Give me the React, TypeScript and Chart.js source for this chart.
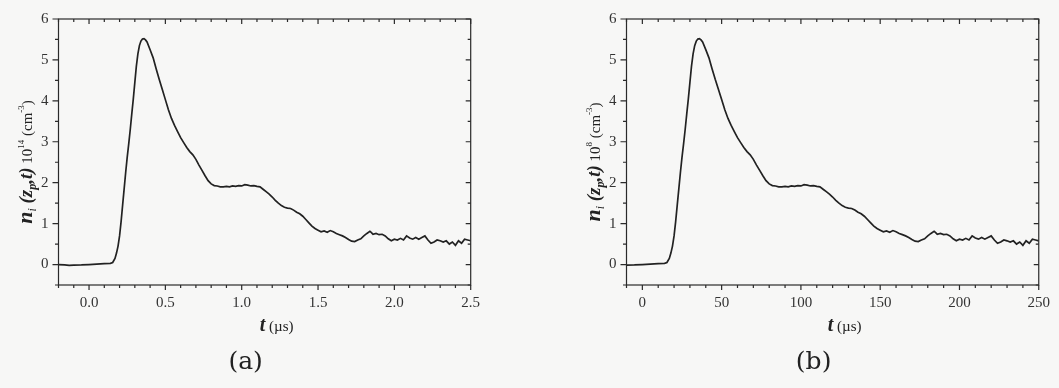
import React, { useEffect, useRef } from "react";
import { Chart, registerables } from "chart.js";

Chart.register(...registerables);

// ---- data ----
const timeA = [
  -0.2, -0.16, -0.13, -0.1, -0.05, 0.0, 0.05, 0.1, 0.14, 0.155, 0.17, 0.18, 0.19, 0.2, 0.21, 0.22, 0.23, 0.24,
  0.25, 0.26, 0.27, 0.28, 0.29, 0.3, 0.31, 0.32, 0.33, 0.34, 0.35, 0.36, 0.37, 0.38, 0.4, 0.42, 0.44, 0.46,
  0.48, 0.5, 0.52, 0.54, 0.56, 0.58, 0.6, 0.62, 0.64, 0.66, 0.68, 0.7, 0.72, 0.74, 0.76, 0.78, 0.8, 0.82,
  0.84, 0.86, 0.88, 0.9, 0.92, 0.94, 0.96, 0.98, 1.0, 1.02, 1.04, 1.06, 1.08, 1.1, 1.12, 1.14, 1.16, 1.18,
  1.2, 1.22, 1.24, 1.26, 1.28, 1.3, 1.32, 1.34, 1.36, 1.38, 1.4, 1.42, 1.44, 1.46, 1.48, 1.5, 1.52, 1.54,
  1.56, 1.58, 1.6, 1.62, 1.64, 1.66, 1.68, 1.7, 1.72, 1.74, 1.76, 1.78, 1.8, 1.82, 1.84, 1.85, 1.86, 1.88,
  1.9, 1.92, 1.94, 1.96, 1.98, 2.0, 2.02, 2.04, 2.06, 2.08, 2.1, 2.12, 2.14, 2.16, 2.18, 2.2, 2.22, 2.24,
  2.26, 2.28, 2.3, 2.32, 2.34, 2.36, 2.38, 2.4, 2.42, 2.44, 2.46, 2.48, 2.5,
];

const densityA = [
  0.0, -0.01, -0.02, -0.015, -0.01, 0.0, 0.01, 0.02, 0.03, 0.05, 0.15, 0.28, 0.45, 0.7, 1.05, 1.45, 1.85, 2.25,
  2.62, 2.95, 3.3, 3.68, 4.05, 4.45, 4.85, 5.15, 5.35, 5.46, 5.51, 5.52, 5.49, 5.44, 5.25, 5.05, 4.78, 4.52,
  4.28, 4.03, 3.78, 3.57, 3.4, 3.25, 3.1, 2.98, 2.86, 2.76, 2.68, 2.57, 2.43, 2.3, 2.17, 2.05, 1.97, 1.93,
  1.92, 1.9, 1.9, 1.91, 1.9, 1.92, 1.91, 1.93, 1.92, 1.95, 1.94, 1.92, 1.93, 1.91, 1.9, 1.84, 1.78, 1.72,
  1.65, 1.57, 1.5, 1.44, 1.4, 1.38, 1.37, 1.33, 1.28, 1.24, 1.18, 1.1, 1.02, 0.94, 0.88, 0.84, 0.8, 0.82,
  0.79, 0.83, 0.8, 0.76, 0.73, 0.7, 0.66, 0.61, 0.57, 0.56, 0.6, 0.63, 0.7, 0.76, 0.81, 0.78, 0.74, 0.76,
  0.73, 0.74, 0.7, 0.63, 0.58, 0.62, 0.6, 0.64, 0.6, 0.7, 0.65, 0.62, 0.66, 0.62, 0.66, 0.7, 0.6, 0.52,
  0.55, 0.6, 0.58, 0.55, 0.58, 0.5, 0.55, 0.47, 0.58, 0.52, 0.62, 0.6, 0.58,
];

const timeB = [
  -20, -16, -13, -10, -5, 0, 5, 10, 14, 15.5, 17, 18, 19, 20, 21, 22, 23, 24,
  25, 26, 27, 28, 29, 30, 31, 32, 33, 34, 35, 36, 37, 38, 40, 42, 44, 46,
  48, 50, 52, 54, 56, 58, 60, 62, 64, 66, 68, 70, 72, 74, 76, 78, 80, 82,
  84, 86, 88, 90, 92, 94, 96, 98, 100, 102, 104, 106, 108, 110, 112, 114, 116, 118,
  120, 122, 124, 126, 128, 130, 132, 134, 136, 138, 140, 142, 144, 146, 148, 150, 152, 154,
  156, 158, 160, 162, 164, 166, 168, 170, 172, 174, 176, 178, 180, 182, 184, 185, 186, 188,
  190, 192, 194, 196, 198, 200, 202, 204, 206, 208, 210, 212, 214, 216, 218, 220, 222, 224,
  226, 228, 230, 232, 234, 236, 238, 240, 242, 244, 246, 248, 250,
];

// panel (b) shows the same trace on a 10^8 scale
const densityB = densityA;

const xMajorA = [0.0, 0.5, 1.0, 1.5, 2.0, 2.5];
const xLabelsA = ["0.0", "0.5", "1.0", "1.5", "2.0", "2.5"];
const xMajorB = [0, 50, 100, 150, 200, 250];
const xLabelsB = ["0", "50", "100", "150", "200", "250"];
const yMajor = [0, 1, 2, 3, 4, 5, 6];
const yLabels = ["0", "1", "2", "3", "4", "5", "6"];

const FONT = "'Liberation Serif', 'Times New Roman', serif";
const BG = "#f7f7f6";
const INK = "#222222";

type Seg = { t: string; font: string; dy?: number };

function drawRich(ctx: CanvasRenderingContext2D, segs: Seg[], x: number, y: number, rot: number) {
  ctx.save();
  ctx.translate(x, y);
  ctx.rotate(rot);
  ctx.textBaseline = "alphabetic";
  ctx.textAlign = "left";
  let total = 0;
  for (const s of segs) {
    ctx.font = s.font;
    total += ctx.measureText(s.t).width;
  }
  let cx = -total / 2;
  for (const s of segs) {
    ctx.font = s.font;
    ctx.fillStyle = INK;
    ctx.fillText(s.t, cx, s.dy || 0);
    cx += ctx.measureText(s.t).width;
  }
  ctx.restore();
}

function near(list: number[], v: number) {
  return list.some((m) => Math.abs(m - v) < 1e-6);
}

function makePanelPlugin(xMajor: number[], exp: string, tag: string) {
  return {
    id: "panelDecor" + tag,
    afterDraw(chart: any) {
      const ctx: CanvasRenderingContext2D = chart.ctx;
      const { left, right, top, bottom } = chart.chartArea;
      const xs = chart.scales.x;
      const ys = chart.scales.y;
      ctx.save();
      ctx.strokeStyle = "#2a2a2a";
      ctx.lineWidth = 1.2;
      ctx.strokeRect(left, top, right - left, bottom - top);
      ctx.beginPath();
      for (const t of xs.ticks) {
        const px = xs.getPixelForValue(t.value);
        const major = near(xMajor, t.value);
        const len = major ? 5 : 3;
        ctx.moveTo(px, bottom);
        ctx.lineTo(px, bottom + len);
        ctx.moveTo(px, top);
        ctx.lineTo(px, top + len);
      }
      for (const t of ys.ticks) {
        const py = ys.getPixelForValue(t.value);
        const major = Math.abs(t.value - Math.round(t.value)) < 1e-6;
        const lenL = major ? 6 : 3.5;
        const lenR = major ? 5 : 3;
        ctx.moveTo(left, py);
        ctx.lineTo(left - lenL, py);
        ctx.moveTo(right, py);
        ctx.lineTo(right - lenR, py);
      }
      ctx.stroke();
      ctx.restore();

      const bi = (s: number) => `italic bold ${s}px ${FONT}`;
      const it = (s: number) => `italic ${s}px ${FONT}`;
      const rg = (s: number) => `${s}px ${FONT}`;

      // y-axis title
      drawRich(
        ctx,
        [
          { t: "n", font: bi(22) },
          { t: "i", font: it(12), dy: 4 },
          { t: " (z", font: bi(19) },
          { t: "p", font: bi(12), dy: 4 },
          { t: ",t)", font: bi(19) },
          { t: " 10", font: rg(15) },
          { t: exp, font: rg(9), dy: -8 },
          { t: " (cm", font: rg(15) },
          { t: "-3", font: rg(9), dy: -8 },
          { t: ")", font: rg(15) },
        ],
        left - 27,
        (top + bottom) / 2 + 10,
        -Math.PI / 2
      );

      // x-axis title
      drawRich(
        ctx,
        [
          { t: "t", font: bi(20) },
          { t: " (\u00b5s)", font: rg(15) },
        ],
        (left + right) / 2 + 12,
        331,
        0
      );

      // panel tag
      ctx.save();
      ctx.font = `25px 'DejaVu Serif', serif`;
      ctx.fillStyle = INK;
      ctx.textAlign = "center";
      ctx.textBaseline = "alphabetic";
      ctx.fillText(`(${tag})`, (left + right) / 2 - 19, 369);
      ctx.restore();
    },
  };
}

type PanelProps = {
  time: number[];
  density: number[];
  xMin: number;
  xMax: number;
  xStep: number;
  xMajor: number[];
  xLabels: string[];
  exp: string;
  tag: string;
  yAxisWidth: number;
  padRight: number;
  padTop: number;
  width: number;
};

function Panel(p: PanelProps) {
  const ref = useRef<HTMLCanvasElement | null>(null);
  useEffect(() => {
    if (!ref.current) return;
    const points = p.time.map((x, i) => ({ x, y: p.density[i] }));
    const chart = new Chart(ref.current, {
      type: "line",
      data: {
        datasets: [
          {
            data: points,
            borderColor: INK,
            borderWidth: 1.7,
            pointRadius: 0,
            tension: 0,
            fill: false,
          },
        ],
      },
      options: {
        animation: false,
        responsive: false,
        events: [],
        layout: { padding: { left: 0, right: p.padRight, top: p.padTop, bottom: 0 } },
        plugins: { legend: { display: false }, tooltip: { enabled: false } },
        scales: {
          x: {
            type: "linear",
            min: p.xMin,
            max: p.xMax,
            grid: { display: false, drawTicks: false },
            border: { display: false },
            ticks: {
              stepSize: p.xStep,
              autoSkip: false,
              maxRotation: 0,
              padding: 9,
              color: "#333",
              font: { family: FONT, size: 15 },
              callback: (v: any) => {
                const idx = p.xMajor.findIndex((m) => Math.abs(m - Number(v)) < 1e-6);
                return idx >= 0 ? p.xLabels[idx] : "";
              },
            },
            afterFit: (s: any) => {
              s.height = 388 - 285;
            },
          },
          y: {
            type: "linear",
            min: -0.5,
            max: 6,
            grid: { display: false, drawTicks: false },
            border: { display: false },
            ticks: {
              stepSize: 0.5,
              autoSkip: false,
              padding: 10,
              color: "#333",
              font: { family: FONT, size: 15 },
              callback: (v: any) => {
                const idx = yMajor.findIndex((m) => Math.abs(m - Number(v)) < 1e-6);
                return idx >= 0 ? yLabels[idx] : "";
              },
            },
            afterFit: (s: any) => {
              s.width = p.yAxisWidth;
            },
          },
        },
      },
      plugins: [makePanelPlugin(p.xMajor, p.exp, p.tag)],
    } as any);
    return () => chart.destroy();
  }, []);
  return <canvas ref={ref} width={p.width} height={388} style={{ display: "block", width: p.width, height: 388 }} />;
}

export default function App() {
  useEffect(() => {
    document.body.style.margin = "0";
    document.body.style.background = BG;
  }, []);
  return (
    <div style={{ position: "relative", width: 1059, height: 388, background: BG, display: "flex" }}>
      <Panel
        time={timeA}
        density={densityA}
        xMin={-0.2}
        xMax={2.5}
        xStep={0.1}
        xMajor={xMajorA}
        xLabels={xLabelsA}
        exp="14"
        tag="a"
        yAxisWidth={58.5}
        padRight={530 - 470.7}
        padTop={12.5}
        width={530}
      />
      <Panel
        time={timeB}
        density={densityB}
        xMin={-10}
        xMax={250}
        xStep={10}
        xMajor={xMajorB}
        xLabels={xLabelsB}
        exp="8"
        tag="b"
        yAxisWidth={96.5}
        padRight={529 - 510.7}
        padTop={12}
        width={529}
      />
    </div>
  );
}
